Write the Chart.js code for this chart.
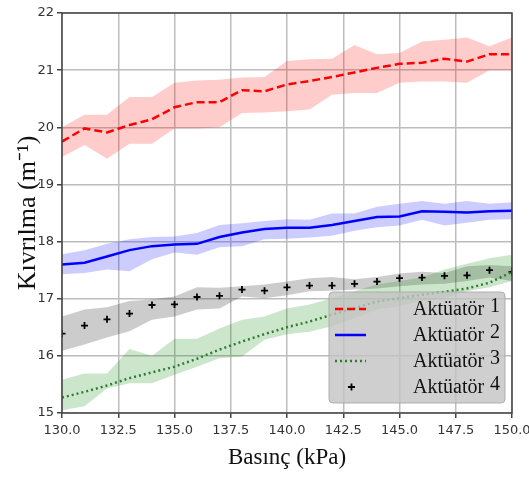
<!DOCTYPE html>
<html lang="tr">
<head>
  <meta charset="UTF-8" />
  <title>Kıvrılma - Basınç</title>
  <script src="https://cdn.jsdelivr.net/npm/chart.js"></script>
  <style>
    html, body { margin: 0; padding: 0; background: #fff; }
    .chart-container { width: 529px; height: 478px; }
  </style>
</head>
<body>
  <div class="chart-container">
    <canvas id="curveChart"></canvas>
  </div>

  <script>
    const pressure = [130, 131, 132, 133, 134, 135, 136, 137, 138, 139, 140,
      141, 142, 143, 144, 145, 146, 147, 148, 149, 150];

    const seriesNames = ['Aktüatör 1', 'Aktüatör 2', 'Aktüatör 3', 'Aktüatör 4'];

    const act1Mean = [19.75, 19.98, 19.91, 20.04, 20.14, 20.35, 20.44, 20.44, 20.65, 20.63, 20.75,
      20.81, 20.88, 20.96, 21.04, 21.11, 21.13, 21.2, 21.15, 21.28, 21.28];
    const act1Upper = [20.0, 20.22, 20.22, 20.53, 20.53, 20.78, 20.82, 20.83, 20.87, 20.88, 21.16,
      21.19, 21.2, 21.44, 21.28, 21.3, 21.5, 21.53, 21.57, 21.42, 21.57];
    const act1Lower = [19.48, 19.69, 19.45, 19.71, 19.71, 19.98, 19.98, 20.0, 20.25, 20.26, 20.28,
      20.31, 20.57, 20.6, 20.6, 20.78, 20.8, 20.8, 20.78, 21.0, 21.0];

    const act2Mean = [17.6, 17.63, 17.74, 17.85, 17.92, 17.95, 17.96, 18.08, 18.16, 18.22, 18.24,
      18.24, 18.29, 18.36, 18.43, 18.44, 18.53, 18.52, 18.51, 18.53, 18.54];
    const act2Upper = [17.78, 17.85, 17.96, 18.04, 18.08, 18.09, 18.15, 18.29, 18.32, 18.36, 18.39,
      18.38, 18.49, 18.49, 18.61, 18.66, 18.71, 18.66, 18.71, 18.66, 18.69];
    const act2Lower = [17.43, 17.45, 17.51, 17.48, 17.69, 17.81, 17.77, 17.9, 17.92, 18.04, 18.05,
      18.07, 18.1, 18.19, 18.25, 18.28, 18.38, 18.28, 18.33, 18.38, 18.39];

    const act3Mean = [15.27, 15.37, 15.48, 15.61, 15.71, 15.81, 15.95, 16.11, 16.25, 16.38, 16.5,
      16.6, 16.72, 16.84, 16.95, 17.01, 17.07, 17.12, 17.18, 17.28, 17.47];
    const act3Upper = [15.58, 15.69, 15.69, 16.12, 16.0, 16.3, 16.3, 16.48, 16.63, 16.69, 16.83,
      16.9, 17.01, 17.13, 17.25, 17.31, 17.37, 17.51, 17.61, 17.71, 17.77];
    const act3Lower = [15.05, 15.12, 15.43, 15.52, 15.52, 15.67, 15.81, 15.96, 15.99, 16.28, 16.38,
      16.42, 16.52, 16.66, 16.81, 16.87, 16.96, 17.01, 17.13, 17.2, 17.31];

    const act4Mean = [16.39, 16.53, 16.64, 16.74, 16.89, 16.9, 17.03, 17.05, 17.16, 17.14, 17.2,
      17.23, 17.23, 17.26, 17.3, 17.36, 17.37, 17.4, 17.41, 17.5, 17.47];
    const act4Upper = [16.69, 16.81, 16.85, 16.96, 16.99, 17.04, 17.2, 17.19, 17.22, 17.25, 17.3,
      17.36, 17.38, 17.34, 17.38, 17.44, 17.47, 17.45, 17.57, 17.59, 17.57];
    const act4Lower = [16.09, 16.2, 16.32, 16.43, 16.63, 16.69, 16.81, 16.83, 17.04, 17.01, 17.06,
      17.13, 17.14, 17.16, 17.18, 17.22, 17.25, 17.26, 17.31, 17.37, 17.31];

    const xTicks = [130, 132.5, 135, 137.5, 140, 142.5, 145, 147.5, 150];
    const yTicks = [15, 16, 17, 18, 19, 20, 21, 22];

    const pts = arr => arr.map((v, i) => ({ x: pressure[i], y: v }));

    // mean lines (indices 0-3), then upper/lower band pairs
    const lines = [
      { data: act1Mean, color: '#ff0000', dash: [8, 4] },
      { data: act2Mean, color: '#0000ff', dash: [] },
      { data: act3Mean, color: '#2e7d2e', dash: [2, 3] },
      { data: act4Mean, color: '#000000', dash: [], points: true }
    ];
    const bands = [
      { up: act1Upper, low: act1Lower, fill: 'rgba(255, 0, 0, 0.2)' },
      { up: act2Upper, low: act2Lower, fill: 'rgba(0, 0, 255, 0.2)' },
      { up: act3Upper, low: act3Lower, fill: 'rgba(0, 128, 0, 0.2)' },
      { up: act4Upper, low: act4Lower, fill: 'rgba(0, 0, 0, 0.2)' }
    ];

    const datasets = [];
    lines.forEach((l, i) => {
      datasets.push({
        label: seriesNames[i],
        data: pts(l.data),
        borderColor: l.color,
        backgroundColor: l.color,
        borderWidth: l.points ? 1.8 : 2.5,
        borderDash: l.dash,
        showLine: !l.points,
        pointStyle: l.points ? 'cross' : 'circle',
        pointRadius: l.points ? 3.5 : 0,
        tension: 0,
        fill: false,
        order: 0
      });
    });
    bands.forEach(b => {
      const lowIdx = datasets.length + 1;
      datasets.push({
        data: pts(b.up),
        borderWidth: 0,
        borderColor: 'transparent',
        pointRadius: 0,
        backgroundColor: b.fill,
        fill: { target: lowIdx },
        order: 1
      });
      datasets.push({
        data: pts(b.low),
        borderWidth: 0,
        borderColor: 'transparent',
        pointRadius: 0,
        fill: false,
        order: 1
      });
    });

    // frame round the plot
    const framePlugin = {
      id: 'frame',
      afterDatasetsDraw(chart) {
        const { ctx, chartArea: a } = chart;
        ctx.save();
        ctx.strokeStyle = '#444';
        ctx.lineWidth = 1.5;
        ctx.strokeRect(a.left, a.top, a.right - a.left, a.bottom - a.top);
        ctx.restore();
      }
    };

    // legend box inside the plot, bottom right
    const boxLegend = {
      id: 'boxLegend',
      afterDraw(chart) {
        const ctx = chart.ctx;
        const x0 = 329, y0 = 292, w = 176, h = 111;
        ctx.save();
        ctx.beginPath();
        ctx.roundRect(x0, y0, w, h, 4);
        ctx.fillStyle = 'rgba(195, 195, 195, 0.8)';
        ctx.fill();
        ctx.strokeStyle = 'rgba(170, 170, 170, 0.9)';
        ctx.lineWidth = 1;
        ctx.stroke();
        for (let i = 0; i < 4; i++) {
          const ds = chart.data.datasets[i];
          const cy = 309 + i * 26;
          if (ds.showLine) {
            ctx.beginPath();
            ctx.setLineDash(ds.borderDash);
            ctx.strokeStyle = ds.borderColor;
            ctx.lineWidth = 2.5;
            ctx.moveTo(335, cy);
            ctx.lineTo(366, cy);
            ctx.stroke();
            ctx.setLineDash([]);
          } else {
            ctx.beginPath();
            ctx.strokeStyle = ds.borderColor;
            ctx.lineWidth = 1.8;
            ctx.moveTo(348, cy); ctx.lineTo(355, cy);
            ctx.moveTo(351.5, cy - 3.5); ctx.lineTo(351.5, cy + 3.5);
            ctx.stroke();
          }
          const parts = seriesNames[i].split(' ');
          ctx.fillStyle = '#111';
          ctx.font = '20px "Liberation Serif", serif';
          ctx.textBaseline = 'middle';
          ctx.textAlign = 'left';
          ctx.fillText(parts[0], 413, cy + 1);
          ctx.fillText(parts[1], 490, cy - 2);
        }
        ctx.restore();
      }
    };

    const config = {
      type: 'line',
      data: { datasets: datasets },
      options: {
        responsive: true,
        maintainAspectRatio: false,
        animation: false,
        layout: { padding: { top: 13, right: 0, left: 0, bottom: 0 } },
        plugins: {
          legend: { display: false },
          tooltip: { enabled: false }
        },
        scales: {
          x: {
            type: 'linear',
            min: 130,
            max: 150,
            afterBuildTicks: s => { s.ticks = xTicks.map(v => ({ value: v })); },
            afterFit: s => { s.height = 65; s.paddingRight = 17; },
            ticks: {
              color: '#333',
              padding: 5,
              font: { family: '"DejaVu Sans", sans-serif', size: 13 },
              callback: v => v.toFixed(1),
              maxRotation: 0
            },
            grid: { color: '#bdbdbd', lineWidth: 1.5, tickColor: '#444', tickLength: 5 },
            border: { display: false },
            title: {
              display: true,
              text: 'Basınç (kPa)',
              color: '#111',
              font: { family: '"Liberation Serif", serif', size: 23 },
              padding: { top: 0, bottom: 6 }
            }
          },
          y: {
            type: 'linear',
            min: 15,
            max: 22,
            afterBuildTicks: s => { s.ticks = yTicks.map(v => ({ value: v })); },
            afterFit: s => { s.width = 62; },
            ticks: {
              color: '#333',
              padding: 3,
              font: { family: '"DejaVu Sans", sans-serif', size: 13 }
            },
            grid: { color: '#bdbdbd', lineWidth: 1.5, tickColor: '#444', tickLength: 5 },
            border: { display: false },
            title: {
              display: true,
              text: 'Kıvrılma (m⁻¹)',
              color: '#111',
              font: { family: '"Liberation Serif", serif', size: 26 },
              padding: { top: 13, bottom: 0 }
            }
          }
        }
      },
      plugins: [framePlugin, boxLegend]
    };

    new Chart(document.getElementById('curveChart'), config);
  </script>
</body>
</html>
